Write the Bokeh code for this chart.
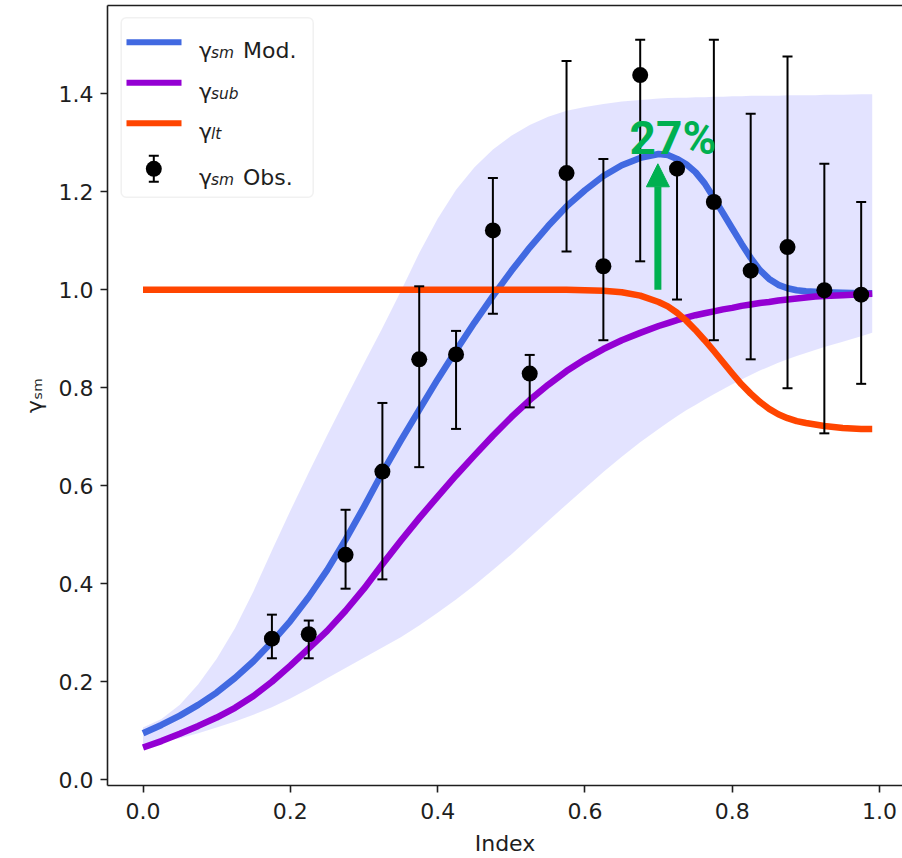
from bokeh.plotting import figure
from bokeh.models import (Range1d, FixedTicker, PrintfTickFormatter, LinearAxis, Label,
                          BoxAnnotation, Arrow, NormalHead)
from bokeh.embed import file_html
from bokeh.resources import INLINE

# ---- model curves sampled along the index axis (denser where the curves bend) ----
index = [0.000, 0.025, 0.050, 0.075, 0.100, 0.125, 0.150, 0.175, 0.200, 0.225,
         0.250, 0.275, 0.300, 0.325, 0.350, 0.375, 0.400, 0.425, 0.450, 0.475,
         0.500, 0.525, 0.550, 0.575, 0.600, 0.625, 0.650, 0.675,
         0.7000, 0.7125, 0.7250, 0.7375, 0.7500, 0.7625, 0.7750, 0.7875, 0.8000, 0.8125,
         0.8250, 0.8375, 0.8500, 0.8625, 0.8750, 0.8875, 0.9000, 0.9125, 0.9250,
         0.950, 0.975, 0.990]

gamma_sm_mod = [0.095, 0.112, 0.131, 0.153, 0.178, 0.208, 0.242, 0.281, 0.324, 0.373,
                0.428, 0.490, 0.557, 0.627, 0.692, 0.755, 0.817, 0.876, 0.933, 0.987,
                1.038, 1.086, 1.130, 1.170, 1.203, 1.232, 1.254, 1.269,
                1.277, 1.275, 1.267, 1.256, 1.240, 1.217, 1.187, 1.156, 1.125, 1.094,
                1.065, 1.040, 1.022, 1.010, 1.003, 0.999, 0.997, 0.996, 0.995,
                0.994, 0.993, 0.993]

gamma_sub = [0.066, 0.079, 0.094, 0.110, 0.127, 0.147, 0.171, 0.200, 0.233, 0.268,
             0.304, 0.345, 0.390, 0.440, 0.488, 0.534, 0.578, 0.621, 0.662, 0.702,
             0.740, 0.775, 0.806, 0.834, 0.858, 0.879, 0.897, 0.912,
             0.926, 0.932, 0.938, 0.943, 0.948, 0.952, 0.956, 0.960, 0.963, 0.967,
             0.970, 0.973, 0.975, 0.978, 0.980, 0.982, 0.984, 0.986, 0.987,
             0.989, 0.991, 0.992]

gamma_lt = [1.000, 1.000, 1.000, 1.000, 1.000, 1.000, 1.000, 1.000, 1.000, 1.000,
            1.000, 1.000, 1.000, 1.000, 1.000, 1.000, 1.000, 1.000, 1.000, 1.000,
            1.000, 1.000, 1.000, 1.000, 0.999, 0.998, 0.995, 0.988,
            0.975, 0.966, 0.953, 0.937, 0.918, 0.897, 0.875, 0.852, 0.829, 0.807,
            0.788, 0.771, 0.757, 0.746, 0.738, 0.732, 0.728, 0.725, 0.722,
            0.718, 0.716, 0.716]

band_low = [0.072, 0.078, 0.085, 0.095, 0.107, 0.119, 0.133, 0.148, 0.166, 0.186,
            0.207, 0.228, 0.249, 0.270, 0.291, 0.315, 0.341, 0.368, 0.397, 0.428,
            0.460, 0.494, 0.528, 0.562, 0.595, 0.628, 0.659, 0.689,
            0.716, 0.729, 0.742, 0.754, 0.765, 0.776, 0.787, 0.797, 0.807, 0.817,
            0.826, 0.835, 0.843, 0.851, 0.858, 0.865, 0.871, 0.877, 0.883,
            0.894, 0.905, 0.912]

band_high = [0.107, 0.124, 0.153, 0.195, 0.247, 0.310, 0.385, 0.468, 0.549, 0.627,
             0.703, 0.777, 0.850, 0.922, 0.997, 1.075, 1.145, 1.204, 1.250, 1.286,
             1.314, 1.336, 1.353, 1.365, 1.373, 1.379, 1.384, 1.387,
             1.390, 1.391, 1.392, 1.392, 1.393, 1.393, 1.394, 1.394, 1.395, 1.395,
             1.396, 1.396, 1.396, 1.396, 1.397, 1.397, 1.397, 1.397, 1.398,
             1.398, 1.399, 1.399]

# ---- observations with asymmetric error bars ----
obs_index = [0.175, 0.225, 0.275, 0.325, 0.375, 0.425, 0.475, 0.525, 0.575,
             0.625, 0.675, 0.725, 0.775, 0.825, 0.875, 0.925, 0.975]
obs_gamma = [0.288, 0.297, 0.459, 0.629, 0.858, 0.868, 1.121, 0.829, 1.238,
             1.048, 1.438, 1.247, 1.179, 1.039, 1.087, 0.999, 0.990]
obs_high = [0.337, 0.325, 0.551, 0.769, 1.007, 0.916, 1.228, 0.867, 1.467,
            1.267, 1.510, 1.255, 1.510, 1.359, 1.476, 1.257, 1.179]
obs_low = [0.248, 0.248, 0.390, 0.409, 0.638, 0.716, 0.951, 0.760, 1.078,
           0.897, 1.058, 0.980, 0.897, 0.858, 0.799, 0.707, 0.808]

x_ticks = [0.0, 0.2, 0.4, 0.6, 0.8, 1.0]
y_ticks = [0.0, 0.2, 0.4, 0.6, 0.8, 1.0, 1.2, 1.4]

# peak annotation
peak_text = "27%"
arrow_x, arrow_y0, arrow_y1 = 0.699, 1.0, 1.257

BLUE, PURPLE, ORANGE, GREEN = "royalblue", "darkviolet", "orangered", "#00b050"
FONT = "DejaVu Sans"
INK = "#1e1e1e"

# ---- frame geometry (canvas pixels) and data ranges ----
X0, X1 = -0.0482, 1.0311
Y0, Y1 = -0.0116, 1.5800
FL, FT, FW, FH = 107, 5, 795, 780


def dx(px):
    return X0 + (px - FL) / FW * (X1 - X0)


def dy(py):
    return Y1 - (py - FT) / FH * (Y1 - Y0)


p = figure(width=902, height=858, output_backend="svg", toolbar_location=None,
           x_range=Range1d(X0, X1), y_range=Range1d(Y0, Y1),
           min_border_left=FL, min_border_right=0, min_border_top=FT,
           min_border_bottom=858 - FT - FH)
p.outline_line_color = None
p.grid.visible = False
p.background_fill_color = "white"

for ax, ticks in ((p.xaxis[0], x_ticks), (p.yaxis[0], y_ticks)):
    ax.ticker = FixedTicker(ticks=ticks)
    ax.formatter = PrintfTickFormatter(format="%.1f")
    ax.major_tick_in = 0
    ax.major_tick_out = 7
    ax.minor_tick_out = 0
    ax.minor_tick_in = 0
    ax.axis_line_width = 1.6
    ax.axis_line_color = INK
    ax.major_tick_line_width = 1.6
    ax.major_tick_line_color = INK
    ax.major_label_text_font = FONT
    ax.major_label_text_font_size = "22px"
    ax.major_label_text_color = INK
    ax.axis_label_text_font = FONT
    ax.axis_label_text_font_size = "22px"
    ax.axis_label_text_font_style = "normal"
    ax.axis_label_text_color = INK

p.xaxis[0].major_label_standoff = 10
p.xaxis[0].axis_label = "Index"
p.xaxis[0].axis_label_standoff = 9
p.yaxis[0].major_label_standoff = 7
p.yaxis[0].axis_label = "γₛₘ"
p.yaxis[0].axis_label_standoff = 9

# top spine
top = LinearAxis(ticker=FixedTicker(ticks=[]), major_tick_out=0, major_tick_in=0,
                 minor_tick_out=0, minor_tick_in=0, major_label_standoff=0,
                 major_label_text_font_size="0px", axis_line_width=1.6,
                 axis_line_color=INK)
p.add_layout(top, "above")

# ---- data ----
p.varea(x=index, y1=band_low, y2=band_high, fill_color="#0000ff", fill_alpha=0.11)
p.line(index, gamma_sm_mod, line_color=BLUE, line_width=6.5, line_join="round")
p.line(index, gamma_sub, line_color=PURPLE, line_width=6.5, line_join="round")
p.line(index, gamma_lt, line_color=ORANGE, line_width=6.5, line_join="round")
p.segment(obs_index, obs_low, obs_index, obs_high, line_color="black", line_width=2)
p.scatter(obs_index, obs_high, marker="dash", size=10, line_color="black", line_width=2)
p.scatter(obs_index, obs_low, marker="dash", size=10, line_color="black", line_width=2)
p.scatter(obs_index, obs_gamma, size=16, fill_color="black", line_color=None)

# ---- peak annotation ----
p.add_layout(Arrow(end=NormalHead(size=23, fill_color=GREEN, line_color=GREEN, line_width=1),
                   x_start=arrow_x, y_start=arrow_y0, x_end=arrow_x, y_end=arrow_y1,
                   line_color=GREEN, line_width=7))
p.add_layout(Label(x=dx(672.5), y=dy(137), text=peak_text, text_font="Roboto",
                   text_font_style="bold", text_font_size="46px", text_color=GREEN,
                   text_align="center", text_baseline="alphabetic"))

# ---- legend ----
p.add_layout(BoxAnnotation(left=dx(120.7), right=dx(312.7), top=dy(17.3), bottom=dy(196.7),
                           fill_color="white", fill_alpha=0.8, line_color="#d0d0d0",
                           line_width=1.5, border_radius=5))
rows = [41.7, 82.3, 122.7, 168.3]
for ry, col in zip(rows[:3], [BLUE, PURPLE, ORANGE]):
    p.add_layout(BoxAnnotation(left=dx(126), right=dx(181), top=dy(ry - 3), bottom=dy(ry + 3),
                               fill_color=col, fill_alpha=1.0, line_color=None))
# observation handle: dot with capped bar
oy = rows[3]
p.add_layout(BoxAnnotation(left=dx(152.3), right=dx(154.3), top=dy(oy - 13), bottom=dy(oy + 13),
                           fill_color="black", fill_alpha=1.0, line_color=None))
for cyp in (oy - 13, oy + 13):
    p.add_layout(BoxAnnotation(left=dx(148.3), right=dx(158.3), top=dy(cyp - 1), bottom=dy(cyp + 1),
                               fill_color="black", fill_alpha=1.0, line_color=None))
p.add_layout(BoxAnnotation(left=dx(145.3), right=dx(161.3), top=dy(oy - 8), bottom=dy(oy + 8),
                           fill_color="black", fill_alpha=1.0, line_color=None, border_radius=8))

subs = ["sm", "sub", "lt", "sm"]
tails = ["Mod.", "", "", "Obs."]
for ry, sub, tail in zip(rows, subs, tails):
    base = ry + 8.3
    p.add_layout(Label(x=dx(198.5), y=dy(base), text="γ", text_font=FONT, text_font_size="22px",
                       text_color=INK, text_align="left", text_baseline="alphabetic"))
    p.add_layout(Label(x=dx(210.5), y=dy(base + 2.5), text=sub, text_font=FONT,
                       text_font_style="italic", text_font_size="15.4px", text_color=INK,
                       text_align="left", text_baseline="alphabetic"))
    if tail:
        p.add_layout(Label(x=dx(242.5), y=dy(base), text=tail, text_font=FONT,
                           text_font_size="22px", text_color=INK,
                           text_align="left", text_baseline="alphabetic"))

open("out.html", "w").write(file_html(p, INLINE))
